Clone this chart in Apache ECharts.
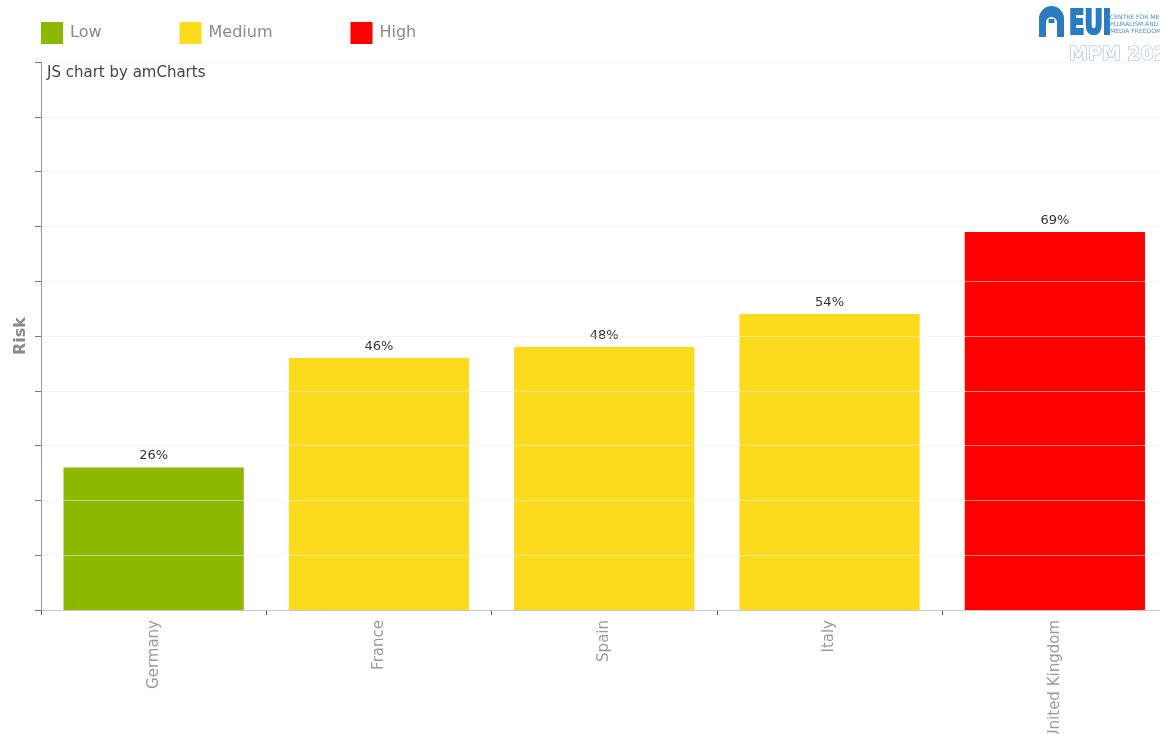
<!DOCTYPE html>
<html>
<head>
<meta charset="utf-8">
<title>Risk by country</title>
<script src="https://cdn.jsdelivr.net/npm/echarts@6/dist/echarts.min.js"></script>
<style>
  html, body { margin: 0; padding: 0; background: #ffffff; }
  #chart { width: 1160px; height: 734px; }
</style>
</head>
<body>
<div id="chart"></div>
<script>
// Countries and their risk scores (percent)
const countries = ['Germany', 'France', 'Spain', 'Italy', 'United Kingdom'];
const riskValues = [26, 46, 48, 54, 69];
// Risk band of each country, one of the band names below
const riskBands = ['Low', 'Medium', 'Medium', 'Medium', 'High'];
const bandNames = ['Low', 'Medium', 'High'];
const bandColors = ['#8cb800', '#fbdb1c', '#ff0000'];

const FONT = '"DejaVu Sans", Verdana, sans-serif';

// One stacked series per band so the legend shows the three bands
const series = bandNames.map((band, b) => ({
  name: band,
  type: 'bar',
  stack: 'risk',
  barCategoryGap: '20%',
  itemStyle: { color: bandColors[b] },
  label: {
    show: true,
    position: 'top',
    distance: 5,
    color: '#333333',
    fontSize: 13,
    fontFamily: FONT,
    formatter: p => p.value + '%'
  },
  data: riskValues.map((v, i) => (riskBands[i] === band ? v : null))
}));

const chart = echarts.init(document.getElementById('chart'), null, { renderer: 'canvas' });

const LOGO_BLUE = '#2a7cc2';

chart.setOption({
  animation: false,
  backgroundColor: '#ffffff',
  color: bandColors,
  legend: {
    left: 41,
    top: 22,
    padding: 0,
    itemWidth: 22,
    itemHeight: 22,
    itemGap: 78,
    icon: 'rect',
    textStyle: { color: '#8a8a8a', fontSize: 16, fontFamily: FONT, padding: [0, 0, 0, 2] },
    data: bandNames
  },
  // the plot runs a little past the right and bottom edges of the page
  grid: { left: 41, top: 62, right: -7.5, bottom: 124, containLabel: false, outerBoundsMode: 'none' },
  xAxis: {
    type: 'category',
    data: countries,
    axisLine: { show: true, lineStyle: { color: '#8e9aa8', width: 1 } },
    axisTick: { show: true, length: 5, lineStyle: { color: '#555555' } },
    axisLabel: {
      rotate: 90,
      margin: 10,
      color: '#9a9a9a',
      fontSize: 15,
      fontFamily: FONT
    },
    splitLine: { show: false }
  },
  yAxis: {
    type: 'value',
    min: 0,
    max: 100,
    interval: 10,
    z: 3,
    name: 'Risk',
    nameLocation: 'middle',
    nameGap: 12,
    nameTextStyle: { color: '#8a8a8a', fontSize: 16, fontWeight: 'bold', fontFamily: FONT },
    axisLine: { show: true, lineStyle: { color: '#8e9aa8', width: 1 } },
    axisTick: { show: true, length: 6, lineStyle: { color: '#777777' } },
    axisLabel: { show: false },
    splitLine: { show: true, lineStyle: { color: 'rgba(238,238,238,0.55)', width: 1 } }
  },
  graphic: [
    {
      type: 'text',
      left: 47,
      top: 66,
      style: { text: 'JS chart by amCharts', fill: '#444444', font: '15px ' + FONT }
    },
    // EUI logo, top right
    {
      type: 'group',
      left: 1039,
      top: 6,
      children: [
        { type: 'rect', shape: { x: 0, y: 2, width: 25, height: 31, r: [12.5, 12.5, 0, 0] }, style: { fill: LOGO_BLUE } },
        { type: 'rect', shape: { x: 7, y: 13, width: 11, height: 20, r: [5.5, 5.5, 0, 0] }, style: { fill: '#ffffff' } },
        { type: 'rect', shape: { x: 9.5, y: 15, width: 6, height: 4 }, style: { fill: LOGO_BLUE } },
        { type: 'text', x: 30, y: 4, scaleX: 0.74,
          style: { text: 'EUI', fill: LOGO_BLUE, stroke: LOGO_BLUE, lineWidth: 2.2, font: 'bold 34px "DejaVu Sans Condensed", sans-serif' } },
        { type: 'text', x: 71, y: 10, style: { text: 'CENTRE FOR MEDIA', fill: '#4a8fcc', font: '6px "DejaVu Sans", sans-serif' } },
        { type: 'text', x: 71, y: 17, style: { text: 'PLURALISM AND', fill: '#4a8fcc', font: '6px "DejaVu Sans", sans-serif' } },
        { type: 'text', x: 71, y: 24, style: { text: 'MEDIA FREEDOM', fill: '#4a8fcc', font: '6px "DejaVu Sans", sans-serif' } },
        { type: 'text', x: 30, y: 42, style: { text: 'MPM 2024', fill: '#ffffff', stroke: '#9db8d0', lineWidth: 1.2, font: 'bold 19px "DejaVu Sans", sans-serif' } }
      ]
    }
  ],
  series: series
});
</script>
</body>
</html>
